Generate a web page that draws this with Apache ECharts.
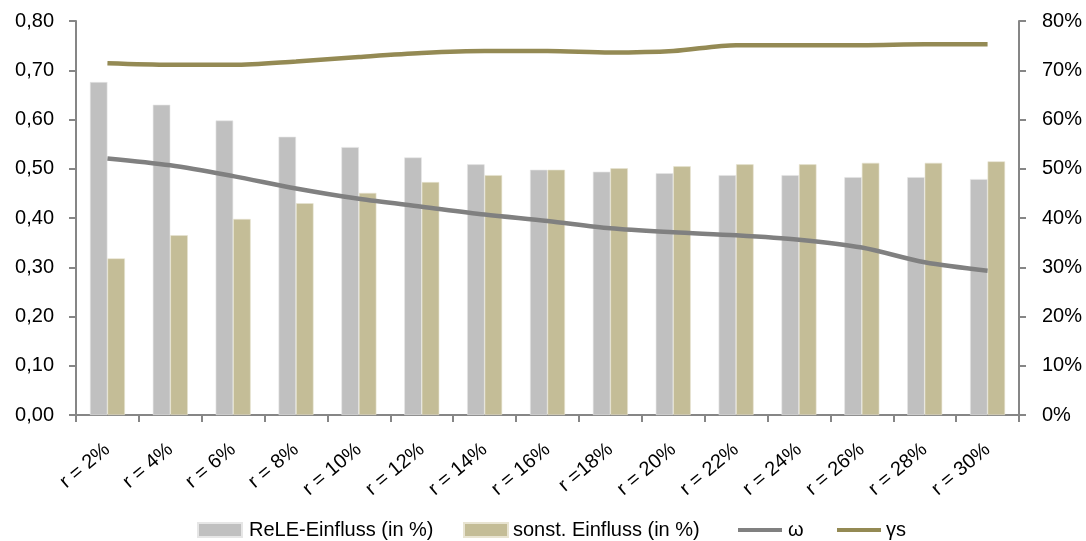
<!DOCTYPE html>
<html>
<head>
<meta charset="utf-8">
<script src="https://cdn.jsdelivr.net/npm/echarts@6/dist/echarts.min.js"></script>
<style>
  html, body { margin: 0; padding: 0; background: #fff; }
  #chart { width: 1086px; height: 541px; }
</style>
</head>
<body>
<div id="chart"></div>
<script>
// Interest rate scenarios
const categories = ['r = 2%', 'r = 4%', 'r = 6%', 'r = 8%', 'r = 10%', 'r = 12%', 'r = 14%', 'r = 16%',
  'r =18%', 'r = 20%', 'r = 22%', 'r = 24%', 'r = 26%', 'r = 28%', 'r = 30%'];

// Shares in percent (right axis)
const releEinfluss = [67.6, 63.0, 59.8, 56.5, 54.4, 52.3, 50.9, 49.8, 49.4, 49.1, 48.7, 48.7, 48.3, 48.3, 47.9];
const sonstEinfluss = [31.8, 36.5, 39.8, 43.0, 45.1, 47.3, 48.7, 49.8, 50.1, 50.5, 50.9, 50.9, 51.2, 51.2, 51.5];

// Coefficients (left axis)
const omega = [0.521, 0.507, 0.485, 0.460, 0.439, 0.423, 0.407, 0.394, 0.379, 0.371, 0.365, 0.356, 0.340, 0.310, 0.293];
const gammaS = [0.714, 0.711, 0.711, 0.718, 0.727, 0.735, 0.739, 0.739, 0.736, 0.739, 0.751, 0.751, 0.751, 0.753, 0.753];

// Axis tick values
const leftTicks = { min: 0, max: 0.8, interval: 0.1 };
const rightTicks = { min: 0, max: 80, interval: 10 };

const FONT = '"Liberation Sans", "DejaVu Sans", sans-serif';
const AXIS_COLOR = '#868686';
// thin bar used as the legend marker of the line series
const LINE_ICON = 'path://M0,0 L44,0 L44,4 L0,4 Z';

// one legend block per entry so each can sit at its own x
function legendEntry(name, icon, left, textGap) {
  return {
    top: 520,
    left: left,
    padding: 0,
    itemWidth: 44,
    itemHeight: 14,
    symbolKeepAspect: true,
    textStyle: { fontFamily: FONT, fontSize: 20, color: '#000', padding: [0, 0, 0, textGap] },
    data: [{ name: name, icon: icon }]
  };
}

const chart = echarts.init(document.getElementById('chart'));
chart.setOption({
  animation: false,
  textStyle: { fontFamily: FONT, color: '#000' },
  grid: { left: 76, right: 67, top: 21, bottom: 126, containLabel: false },
  legend: [
    legendEntry('ReLE-Einfluss (in %)', 'rect', 197, 2),
    legendEntry('sonst. Einfluss (in %)', 'rect', 463, 0),
    legendEntry('ω', LINE_ICON, 738, 1),
    legendEntry('γs', LINE_ICON, 837, 0)
  ],
  xAxis: {
    type: 'category',
    data: categories,
    boundaryGap: true,
    axisLine: { show: true, lineStyle: { color: AXIS_COLOR, width: 2 } },
    axisTick: { show: true, alignWithLabel: false, length: 7, lineStyle: { color: AXIS_COLOR, width: 2 } },
    axisLabel: { rotate: 40, fontSize: 20, fontFamily: FONT, color: '#000', margin: 32, interval: 0 },
    splitLine: { show: false }
  },
  yAxis: [
    {
      type: 'value',
      min: leftTicks.min, max: leftTicks.max, interval: leftTicks.interval,
      position: 'left',
      axisLine: { show: true, lineStyle: { color: AXIS_COLOR, width: 2 } },
      axisTick: { show: true, length: 7, lineStyle: { color: AXIS_COLOR, width: 2 } },
      axisLabel: {
        fontSize: 20, fontFamily: FONT, color: '#000', margin: 22,
        formatter: v => v.toFixed(2).replace('.', ',')
      },
      splitLine: { show: false }
    },
    {
      type: 'value',
      min: rightTicks.min, max: rightTicks.max, interval: rightTicks.interval,
      position: 'right',
      axisLine: { show: true, lineStyle: { color: AXIS_COLOR, width: 2 } },
      axisTick: { show: true, length: 7, lineStyle: { color: AXIS_COLOR, width: 2 } },
      axisLabel: { fontSize: 20, fontFamily: FONT, color: '#000', margin: 23, formatter: '{value}%' },
      splitLine: { show: false }
    }
  ],
  series: [
    {
      name: 'ReLE-Einfluss (in %)',
      type: 'bar',
      yAxisIndex: 1,
      data: releEinfluss,
      barWidth: 17.5,
      barGap: '0%',
      itemStyle: { color: '#C0C0C0', borderColor: '#E6E6E6', borderWidth: 0.6 }
    },
    {
      name: 'sonst. Einfluss (in %)',
      type: 'bar',
      yAxisIndex: 1,
      data: sonstEinfluss,
      barWidth: 17.5,
      barGap: '0%',
      itemStyle: { color: '#C4BD97', borderColor: '#E8E4D2', borderWidth: 0.6 }
    },
    {
      name: 'ω',
      type: 'line',
      yAxisIndex: 0,
      data: omega,
      smooth: 0.3,
      symbol: 'none',
      lineStyle: { color: '#808080', width: 4.5 },
      itemStyle: { color: '#808080' }
    },
    {
      name: 'γs',
      type: 'line',
      yAxisIndex: 0,
      data: gammaS,
      smooth: 0.3,
      symbol: 'none',
      lineStyle: { color: '#948A54', width: 4.5 },
      itemStyle: { color: '#948A54' }
    }
  ]
});
</script>
</body>
</html>
